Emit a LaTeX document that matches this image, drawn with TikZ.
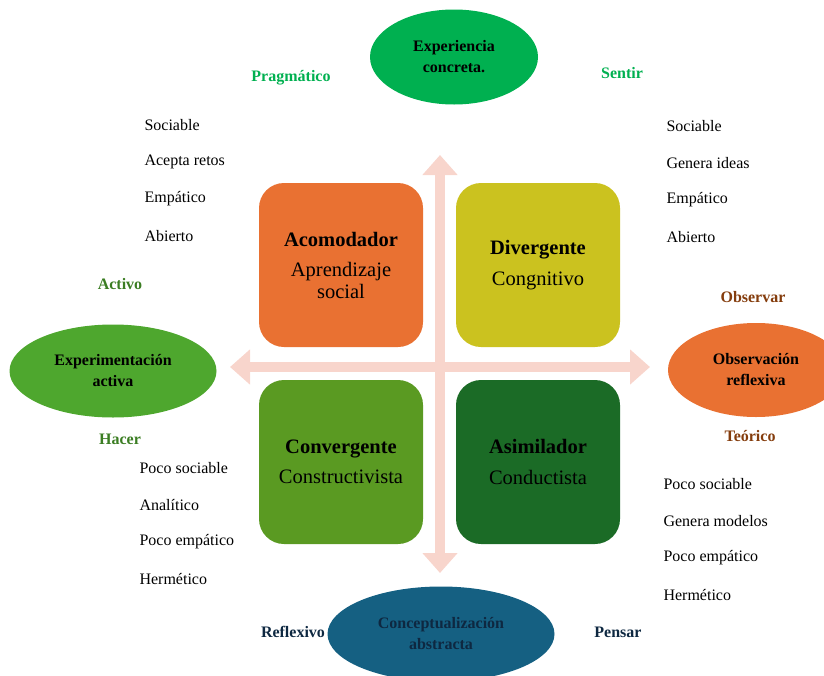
\documentclass[tikz,border=0pt]{standalone}
\usepackage{fontspec}
\setmainfont{Liberation Serif}
\usetikzlibrary{arrows.meta,shapes.geometric}

\definecolor{verdeConc}{HTML}{00B050}
\definecolor{verdeAct}{HTML}{4EA72E}
\definecolor{naranja}{HTML}{E97132}
\definecolor{azulAbs}{HTML}{156082}
\definecolor{oliva}{HTML}{CBC21F}
\definecolor{verdeConv}{HTML}{5A9A22}
\definecolor{verdeAsim}{HTML}{1B6B26}
\definecolor{rosa}{HTML}{F8D5CC}
\definecolor{verdeOsc}{HTML}{3B7D23}
\definecolor{marron}{HTML}{843C0C}
\definecolor{marino}{HTML}{0E2841}

\tikzset{
  cuadro/.style={rounded corners=25pt, minimum width=164pt, minimum height=164pt,
    align=center, font=\fontsize{20.5}{21.5}\selectfont},
  polo/.style={ellipse, align=center, inner sep=0pt, font=\bfseries\fontsize{16}{21}\selectfont},
  rasgo/.style={anchor=west, font=\fontsize{16}{18}\selectfont},
  etiqueta/.style={font=\bfseries\fontsize{16}{18}\selectfont},
  flecha/.style={line width=10pt, draw=rosa,
    {Triangle[width=34pt,length=20pt]}-{Triangle[width=34pt,length=20pt]}}
}

\begin{document}
\begin{tikzpicture}[x=1pt, y=-1pt]
   \useasboundingbox (0,0) rectangle (824,675);
   \clip (0,0) rectangle (824,675);

   % ejes
   \coordinate (arriba) at (440,155);
   \coordinate (abajo) at (440,573);
   \coordinate (izq) at (230,367);
   \coordinate (der) at (650,367);
   \draw[flecha] (abajo) -- (arriba);
   \draw[flecha] (izq) -- (der);

   % estilos
   \node[cuadro, fill=naranja] (acom) at (341,265) {\textbf{Acomodador}\\[9pt] Aprendizaje\\ social};
   \node[cuadro, fill=oliva] (diver) at (538,265) {\textbf{Divergente}\\[9pt] Congnitivo};
   \node[cuadro, fill=verdeConv] (conv) at (341,462) {\textbf{Convergente}\\[9pt] Constructivista};
   \node[cuadro, fill=verdeAsim] (asim) at (538,462) {\textbf{Asimilador}\\[9pt] Conductista};

   % polos
   \node[polo, fill=verdeConc, minimum width=168pt, minimum height=95pt] (conc) at (454,57) {Experiencia\\ concreta.};
   \node[polo, fill=verdeAct, minimum width=207pt, minimum height=93pt] (activa) at (113,371) {Experimentación\\ activa};
   \node[polo, fill=naranja, minimum width=176pt, minimum height=94pt] (reflex) at (756,370) {Observación\\ reflexiva};
   \node[polo, fill=azulAbs, text=marino, minimum width=227pt, minimum height=95pt] (abstr) at (441,634) {Conceptualización\\ abstracta};

   % etiquetas
   \node[etiqueta, text=verdeConc] (prag) at (291,78) {Pragmático};
   \node[etiqueta, text=verdeConc] (sentir) at (622,73) {Sentir};
   \node[etiqueta, text=verdeOsc] (activo) at (120,284) {Activo};
   \node[etiqueta, text=verdeOsc] (hacer) at (120,439) {Hacer};
   \node[etiqueta, text=marron] (observar) at (753,297) {Observar};
   \node[etiqueta, text=marron] (teorico) at (750,436) {Teórico};
   \node[etiqueta, text=marino] (reflexivo) at (293,632) {Reflexivo};
   \node[etiqueta, text=marino] (pensar) at (618,632) {Pensar};

   % rasgos
   \node[rasgo] (a1) at (141,125) {Sociable};
   \node[rasgo] (a2) at (141,162) {Acepta retos};
   \node[rasgo] (a3) at (141,199) {Empático};
   \node[rasgo] (a4) at (141,236) {Abierto};

   \node[rasgo] (d1) at (663,126) {Sociable};
   \node[rasgo] (d2) at (663,163) {Genera ideas};
   \node[rasgo] (d3) at (663,200) {Empático};
   \node[rasgo] (d4) at (663,237) {Abierto};

   \node[rasgo] (c1) at (136,468) {Poco sociable};
   \node[rasgo] (c2) at (136,505) {Analítico};
   \node[rasgo] (c3) at (136,542) {Poco empático};
   \node[rasgo] (c4) at (136,579) {Hermético};

   \node[rasgo] (s1) at (660,484) {Poco sociable};
   \node[rasgo] (s2) at (660,521) {Genera modelos};
   \node[rasgo] (s3) at (660,558) {Poco empático};
   \node[rasgo] (s4) at (660,595) {Hermético};
\end{tikzpicture}
\end{document}
